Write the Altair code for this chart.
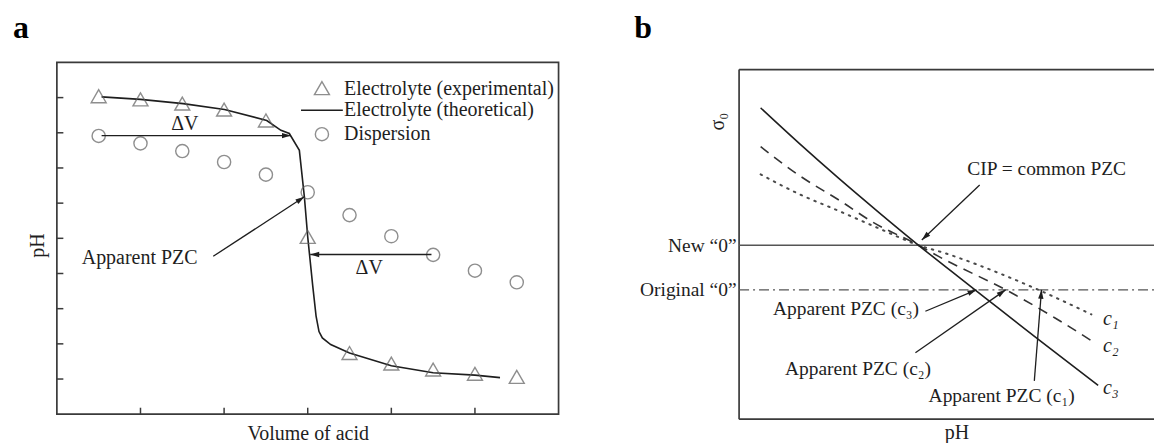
import math
import altair as alt
import pandas as pd

FONT = "Liberation Serif"
INK = "#1e1e1e"
MARK_GREY = "#5f5f5f"
LINE_GREY = "#555555"
FRAME = "#3a3a3a"

# ---------------- panel a data ----------------
acid_volume = [0, 1, 2, 3, 4, 5, 6, 7, 8, 9, 10]
ph_electrolyte_experimental = [10.04, 9.95, 9.83, 9.66, 9.35, 6.04, 2.74, 2.44, 2.27, 2.15, 2.06]
ph_dispersion = [8.91, 8.70, 8.48, 8.17, 7.81, 7.31, 6.66, 6.06, 5.53, 5.08, 4.75]
theory_volume = [0.07, 1.0, 2.02, 3.01, 4.02, 4.36, 4.56, 4.80, 4.92, 5.0, 5.12, 5.2, 5.27, 5.35,
                 5.55, 6.0, 7.0, 8.0, 9.0, 9.6]
theory_ph = [10.02, 9.95, 9.83, 9.66, 9.35, 9.07, 8.98, 8.50, 7.18, 6.04, 4.65, 3.79, 3.35, 3.17,
             2.98, 2.74, 2.38, 2.18, 2.11, 2.04]
volume_ticks = [1, 3, 5, 7, 9]
ph_ticks = [2, 3, 4, 5, 6, 7, 8, 9, 10]
legend_labels = ["Electrolyte (experimental)", "Electrolyte (theoretical)", "Dispersion"]

# ---------------- panel b data ----------------
ph_c1 = [2.54, 3.5, 4.5, 5.5, 6.5, 7.17, 8.5, 9.58, 10.83]
sigma_c1 = [2.59, 2.15, 1.77, 1.38, 1.0, 0.82, 0.38, -0.03, -0.55]
ph_c2 = [2.54, 3.5, 4.58, 5.33, 6.5, 7.0, 8.75, 9.92, 10.92]
sigma_c2 = [3.21, 2.57, 1.97, 1.53, 1.0, 0.75, -0.03, -0.63, -1.19]
ph_c3 = [2.54, 3.5, 4.5, 5.5, 6.5, 7.5, 8.5, 9.5, 11.0]
sigma_c3 = [4.08, 3.29, 2.50, 1.74, 1.0, 0.29, -0.41, -1.11, -2.14]
curve_labels = ["c₁", "c₂", "c₃"]
sigma_new_zero = 1.0
sigma_original_zero = 0.0

# ---------------- geometry of the two panels ----------------
A_W, A_H = 503, 352.7
A_XD, A_YD = [-1, 11], [1, 11]
B_W, B_H = 416, 357.7
B_XD, B_YD = [2, 12.4], [-2.9, 5.1]
B_FRAME_TOP = 4.94

a_kx = A_W / (A_XD[1] - A_XD[0])
a_ky = A_H / (A_YD[1] - A_YD[0])
b_kx = B_W / (B_XD[1] - B_XD[0])
b_ky = B_H / (B_YD[1] - B_YD[0])

ARROW_PATH = "M0,0L0.3,1L-0.3,1Z"


def arrow_frame(arrows, kx, ky):
    rows = []
    for (x0, y0, x1, y1) in arrows:
        ang = math.degrees(math.atan2((x1 - x0) * kx, (y1 - y0) * ky)) % 360
        rows.append({"x": x0, "y": y0, "x2": x1, "y2": y1, "ang": ang})
    return pd.DataFrame(rows)


def layers(xscale, yscale, xaxis, yaxis):
    X = lambda f="x": alt.X(f + ":Q", scale=xscale, axis=xaxis)
    Y = lambda f="y": alt.Y(f + ":Q", scale=yscale, axis=yaxis)
    return X, Y


# ======================= panel a =======================
xa = alt.Scale(domain=A_XD, nice=False, zero=False)
ya = alt.Scale(domain=A_YD, nice=False, zero=False)
ax_ax = alt.Axis(title="Volume of acid", labels=False, ticks=False, domain=False, grid=False,
                 titleFont=FONT, titleFontSize=20, titleFontWeight="normal", titleColor=INK,
                 titleX=A_W / 2, titleY=19, titleAlign="center", titleBaseline="middle")
ay_ax = alt.Axis(title="pH", labels=False, ticks=False, domain=False, grid=False,
                 titleFont=FONT, titleFontSize=20, titleFontWeight="normal", titleColor=INK,
                 titleX=-19, titleY=183, titleAngle=270, titleAlign="center",
                 titleBaseline="middle")
XA, YA = layers(xa, ya, ax_ax, ay_ax)

tick_len = 6.5
ticks_a = pd.DataFrame(
    [{"x": A_XD[0], "x2": A_XD[0] + tick_len / a_kx, "y": v, "y2": v} for v in ph_ticks]
    + [{"x": t, "x2": t, "y": A_YD[0], "y2": A_YD[0] + tick_len / a_ky} for t in volume_ticks]
)
a_ticks = alt.Chart(ticks_a).mark_rule(color=FRAME, strokeWidth=1.5).encode(
    x=XA(), x2="x2:Q", y=YA(), y2="y2:Q")

theory = pd.DataFrame({"x": theory_volume, "y": theory_ph})
a_line = alt.Chart(theory).mark_line(color=INK, strokeWidth=1.6).encode(
    x=XA(), y=YA(), order="x:Q")

exp_df = pd.DataFrame({"x": acid_volume, "y": ph_electrolyte_experimental})
a_tri = alt.Chart(exp_df).mark_point(shape="triangle-up", size=225, filled=False,
                                     color=MARK_GREY, strokeWidth=1.4).encode(x=XA(), y=YA())
disp_df = pd.DataFrame({"x": acid_volume, "y": ph_dispersion})
a_circ = alt.Chart(disp_df).mark_point(shape="circle", size=175, filled=False,
                                       color=MARK_GREY, strokeWidth=1.4).encode(x=XA(), y=YA())

arrows_a = arrow_frame([
    (0.07, 8.92, 4.60, 8.92),
    (7.96, 5.54, 5.06, 5.54),
    (2.74, 5.49, 4.92, 7.18),
], a_kx, a_ky)
a_arrow = alt.Chart(arrows_a).mark_rule(color=INK, strokeWidth=1.3).encode(
    x=XA(), y=YA(), x2="x2:Q", y2="y2:Q")
a_head = alt.Chart(arrows_a).mark_point(shape=ARROW_PATH, size=324, filled=True, color=INK,
                                        strokeWidth=0, opacity=1).encode(
    x=XA("x2"), y=YA("y2"), angle=alt.Angle("ang:Q", scale=None))

a_text_c = alt.Chart(pd.DataFrame({"x": [2.06, 6.47], "y": [9.26, 5.16], "t": ["ΔV", "ΔV"]})).mark_text(
    align="center", baseline="middle", font=FONT, fontSize=20, color=INK).encode(
    x=XA(), y=YA(), text="t:N")
a_text_l = alt.Chart(pd.DataFrame({
    "x": [-0.405, 5.87, 5.87, 5.87],
    "y": [5.44, 10.25, 9.64, 8.96],
    "t": ["Apparent PZC"] + legend_labels})).mark_text(
    align="left", baseline="middle", font=FONT, fontSize=20, color=INK).encode(
    x=XA(), y=YA(), text="t:N")

leg_tri = alt.Chart(pd.DataFrame({"x": [5.34], "y": [10.27]})).mark_point(
    shape="triangle-up", size=225, filled=False, color=MARK_GREY, strokeWidth=1.4).encode(
    x=XA(), y=YA())
leg_circ = alt.Chart(pd.DataFrame({"x": [5.34], "y": [8.96]})).mark_point(
    shape="circle", size=175, filled=False, color=MARK_GREY, strokeWidth=1.4).encode(
    x=XA(), y=YA())
leg_line = alt.Chart(pd.DataFrame({"x": [4.84], "x2": [5.84], "y": [9.64]})).mark_rule(
    color=INK, strokeWidth=1.6).encode(x=XA(), x2="x2:Q", y=YA())

panel_a = alt.layer(a_ticks, a_line, a_tri, a_circ, a_arrow, a_head, a_text_c, a_text_l,
                    leg_tri, leg_circ, leg_line).properties(
    width=A_W, height=A_H,
    view=alt.ViewBackground(stroke=FRAME, strokeWidth=1.7),
    title=alt.TitleParams("a", anchor="start", frame="group", dx=-44, offset=-8,
                          baseline="alphabetic", font=FONT, fontSize=32, fontWeight="bold",
                          color="#000000"))

# ======================= panel b =======================
xb = alt.Scale(domain=B_XD, nice=False, zero=False)
yb = alt.Scale(domain=B_YD, nice=False, zero=False)
bx_ax = alt.Axis(title="pH", labels=False, ticks=False, domain=False, grid=False,
                 titleFont=FONT, titleFontSize=20, titleFontWeight="normal", titleColor=INK,
                 titleX=218, titleY=13, titleAlign="center", titleBaseline="middle")
by_ax = alt.Axis(values=[sigma_original_zero, sigma_new_zero],
                 labelExpr="datum.value == 1 ? 'New “0”' : 'Original “0”'",
                 ticks=False, tickSize=0, domain=False, grid=False,
                 labelFont=FONT, labelFontSize=19.5, labelColor=INK, labelPadding=3,
                 title="σ₀", titleFont=FONT, titleFontSize=20, titleFontWeight="normal",
                 titleColor=INK, titleX=-16, titleY=59, titleAngle=270, titleAlign="center",
                 titleBaseline="alphabetic")
XB, YB = layers(xb, yb, bx_ax, by_ax)

frame_b = pd.DataFrame([
    {"x": B_XD[0], "x2": B_XD[1], "y": B_FRAME_TOP, "y2": B_FRAME_TOP},
    {"x": B_XD[0], "x2": B_XD[0], "y": B_YD[0], "y2": B_FRAME_TOP},
    {"x": B_XD[0], "x2": B_XD[1], "y": B_YD[0], "y2": B_YD[0]},
])
b_frame = alt.Chart(frame_b).mark_rule(color=FRAME, strokeWidth=1.7).encode(
    x=XB(), x2="x2:Q", y=YB(), y2="y2:Q")

zero_df = pd.DataFrame({"x": [B_XD[0], B_XD[0]], "x2": [B_XD[1], B_XD[1]],
                        "y": [sigma_new_zero, sigma_original_zero], "k": ["new", "orig"]})
b_new = alt.Chart(zero_df[zero_df.k == "new"]).mark_rule(color=LINE_GREY, strokeWidth=1.6).encode(
    x=XB(), x2="x2:Q", y=YB())
b_orig = alt.Chart(zero_df[zero_df.k == "orig"]).mark_rule(
    color=LINE_GREY, strokeWidth=1.4, strokeDash=[10, 4, 2, 4]).encode(x=XB(), x2="x2:Q", y=YB())

c1_df = pd.DataFrame({"x": ph_c1, "y": sigma_c1})
c2_df = pd.DataFrame({"x": ph_c2, "y": sigma_c2})
c3_df = pd.DataFrame({"x": ph_c3, "y": sigma_c3})
b_c1 = alt.Chart(c1_df).mark_line(color="#4a4a4a", strokeWidth=2.0, strokeDash=[1.5, 6],
                                  strokeCap="round", interpolate="monotone").encode(
    x=XB(), y=YB(), order="x:Q")
b_c2 = alt.Chart(c2_df).mark_line(color="#333333", strokeWidth=1.6, strokeDash=[10, 7],
                                  interpolate="monotone").encode(x=XB(), y=YB(), order="x:Q")
b_c3 = alt.Chart(c3_df).mark_line(color=INK, strokeWidth=1.6, interpolate="monotone").encode(
    x=XB(), y=YB(), order="x:Q")

arrows_b = arrow_frame([
    (8.03, 2.35, 6.58, 1.12),
    (6.67, -0.48, 7.95, 0.0),
    (6.42, -1.41, 8.68, 0.0),
    (9.40, -2.04, 9.58, 0.0),
], b_kx, b_ky)
b_arrow = alt.Chart(arrows_b).mark_rule(color=INK, strokeWidth=1.3).encode(
    x=XB(), y=YB(), x2="x2:Q", y2="y2:Q")
b_head = alt.Chart(arrows_b).mark_point(shape=ARROW_PATH, size=324, filled=True, color=INK,
                                        strokeWidth=0, opacity=1).encode(
    x=XB("x2"), y=YB("y2"), angle=alt.Angle("ang:Q", scale=None))

b_text_c = alt.Chart(pd.DataFrame({"x": [9.71], "y": [2.72], "t": ["CIP = common PZC"]})).mark_text(
    align="center", baseline="middle", font=FONT, fontSize=19.5, color=INK).encode(
    x=XB(), y=YB(), text="t:N")
b_text_l = alt.Chart(pd.DataFrame({
    "x": [2.85, 3.15, 6.75],
    "y": [-0.44, -1.77, -2.38],
    "t": ["Apparent PZC (c₃)", "Apparent PZC (c₂)", "Apparent PZC (c₁)"]})).mark_text(
    align="left", baseline="middle", font=FONT, fontSize=19.5, color=INK).encode(
    x=XB(), y=YB(), text="t:N")
b_text_c_lab = alt.Chart(pd.DataFrame({
    "x": [11.12, 11.12, 11.12], "y": [-0.66, -1.26, -2.19], "t": curve_labels})).mark_text(
    align="left", baseline="middle", font=FONT, fontSize=20, fontStyle="italic", color=INK).encode(
    x=XB(), y=YB(), text="t:N")

panel_b = alt.layer(b_frame, b_new, b_orig, b_c1, b_c2, b_c3, b_arrow, b_head, b_text_c,
                    b_text_l, b_text_c_lab).properties(
    width=B_W, height=B_H,
    view=alt.ViewBackground(stroke="transparent"),
    title=alt.TitleParams("b", anchor="start", frame="group", dx=-105, offset=-8,
                          baseline="alphabetic", font=FONT, fontSize=32, fontWeight="bold",
                          color="#000000"))

chart = alt.hconcat(panel_a, panel_b, spacing=181, bounds="flush").properties(
    padding={"left": 4, "top": 3, "right": 0, "bottom": 0},
    background="white",
).configure_view(stroke="transparent")

chart.save("out.html", embed_options={"renderer": "svg", "actions": False})
